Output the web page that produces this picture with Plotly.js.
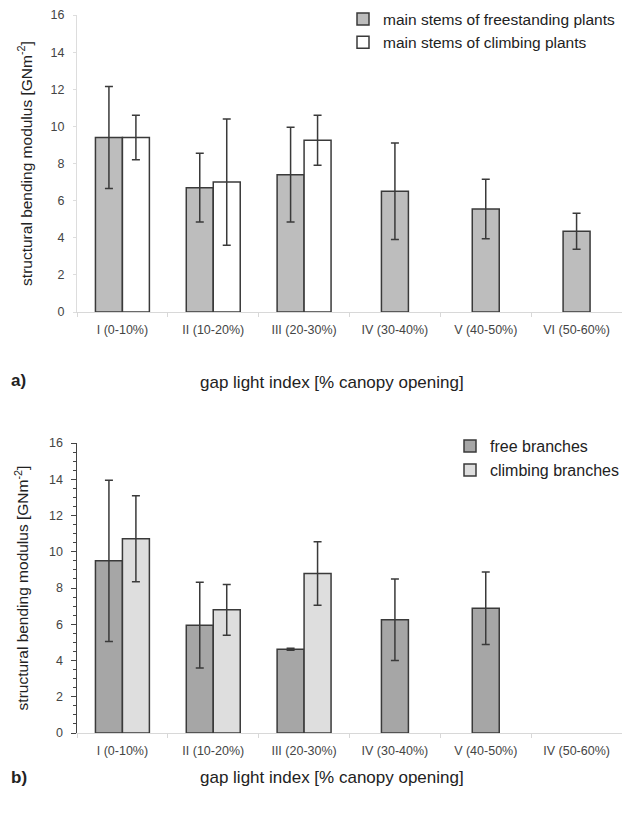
<!DOCTYPE html>
<html>
<head>
<meta charset="utf-8">
<script src="https://cdn.plot.ly/plotly-3.0.1.min.js"></script>
<style>html,body{margin:0;padding:0;background:#fff}#chart{width:622px;height:816px}</style>
</head>
<body>
<div id="chart"></div>
<script>
// ---- data (panel a) ----
const catsA = ["I (0-10%)", "II (10-20%)", "III (20-30%)", "IV (30-40%)", "V (40-50%)", "VI (50-60%)"];
const freestanding = [9.4, 6.7, 7.4, 6.5, 5.55, 4.35];
const freestandingErr = [2.75, 1.85, 2.55, 2.6, 1.6, 0.97];
const climbing = [9.4, 7.0, 9.25, null, null, null];
const climbingErr = [1.2, 3.4, 1.35, null, null, null];
// ---- data (panel b) ----
const catsB = ["I (0-10%)", "II (10-20%)", "III (20-30%)", "IV (30-40%)", "V (40-50%)", "IV (50-60%)"];
const freeBranches = [9.5, 5.95, 4.62, 6.25, 6.88, null];
const freeBranchesErr = [4.45, 2.37, 0.05, 2.25, 2.0, null];
const climbingBranches = [10.72, 6.8, 8.8, null, null, null];
const climbingBranchesErr = [2.37, 1.4, 1.75, null, null, null];
const xTitle = 'gap light index [% canopy opening]';
const yTitle = 'structural bending modulus [GNm<sup>-2</sup>]';

const W = 0.297;
function offsets(a, b, first) {
  return a.map((v, i) => {
    const both = a[i] != null && b[i] != null;
    if (both) return first ? -W : 0;
    return -W / 2;
  });
}

const barLine = {color: '#3a3a3a', width: 1.5};
const errStyle = (arr) => ({type: 'data', array: arr, symmetric: true, visible: true, color: '#3a3a3a', thickness: 1.5, width: 4});

const traces = [
  {type: 'bar', name: 'main stems of freestanding plants', x: catsA, y: freestanding,
   offset: offsets(freestanding, climbing, true), width: W,
   marker: {color: '#bdbdbd', line: barLine}, error_y: errStyle(freestandingErr),
   xaxis: 'x', yaxis: 'y', legend: 'legend'},
  {type: 'bar', name: 'main stems of climbing plants', x: catsA, y: climbing,
   offset: offsets(climbing, freestanding, false), width: W,
   marker: {color: '#ffffff', line: barLine}, error_y: errStyle(climbingErr),
   xaxis: 'x', yaxis: 'y', legend: 'legend'},
  {type: 'bar', name: 'free branches', x: catsB, y: freeBranches,
   offset: offsets(freeBranches, climbingBranches, true), width: W,
   marker: {color: '#a6a6a6', line: barLine}, error_y: errStyle(freeBranchesErr),
   xaxis: 'x2', yaxis: 'y2', legend: 'legend2'},
  {type: 'bar', name: 'climbing branches', x: catsB, y: climbingBranches,
   offset: offsets(climbingBranches, freeBranches, false), width: W,
   marker: {color: '#dedede', line: barLine}, error_y: errStyle(climbingBranchesErr),
   xaxis: 'x2', yaxis: 'y2', legend: 'legend2'}
];

const fontFam = 'Liberation Sans, Arial, sans-serif';
const tickFont = {family: fontFam, size: 12.5, color: '#444'};
const yTitleFont = {family: fontFam, size: 15.5, color: '#222'};
const xTitleFont = {family: fontFam, size: 17, color: '#222'};

const L = 77, PW = 622 - 77;          // plot-area left and width in px
const px = (v) => (v - L) / PW;        // px -> paper x

const xCommon = {
  type: 'category', range: [-0.5, 5.5], showline: true, linecolor: '#d8d8d8', linewidth: 1,
  ticks: 'outside', tickson: 'boundaries', ticklen: 4, tickcolor: '#d8d8d8', ticklabelstandoff: 6,
  tickfont: tickFont, showgrid: false, zeroline: false, fixedrange: true
};

const layout = {
  width: 622, height: 816,
  margin: {l: L, r: 0, t: 0, b: 0, autoexpand: false},
  paper_bgcolor: '#ffffff', plot_bgcolor: '#ffffff',
  showlegend: true, barmode: 'group',
  font: {family: fontFam},
  xaxis: Object.assign({}, xCommon, {domain: [0, 1], anchor: 'y', categoryarray: catsA, categoryorder: 'array'}),
  xaxis2: Object.assign({}, xCommon, {domain: [0, 1], anchor: 'y2', categoryarray: catsB, categoryorder: 'array'}),
  yaxis: {
    domain: [1 - 312 / 816, 1 - 15 / 816], range: [0, 16], dtick: 2, anchor: 'x',
    showline: true, linecolor: '#dddddd', linewidth: 1, ticks: 'outside', ticklen: 3, tickcolor: '#dddddd',
    ticklabelstandoff: 6,
    showgrid: false, zeroline: false, tickfont: tickFont,
    title: {text: yTitle, font: yTitleFont, standoff: 14}
  },
  yaxis2: {
    domain: [1 - 733 / 816, 1 - 443 / 816], range: [0, 16], dtick: 2, anchor: 'x2',
    showline: true, linecolor: '#444444', linewidth: 1.5, ticks: 'outside', ticklen: 5, tickcolor: '#444444',
    minor: {dtick: 0.5, ticks: 'outside', ticklen: 3, tickcolor: '#444444'},
    ticklabelstandoff: 5,
    showgrid: false, zeroline: false, tickfont: tickFont,
    title: {text: yTitle, font: yTitleFont, standoff: 16}
  },
  legend: {x: px(343), y: 0.997, xanchor: 'left', yanchor: 'top', bgcolor: 'rgba(0,0,0,0)',
           font: {family: fontFam, size: 15.5, color: '#222'}, tracegroupgap: 0, itemclick: false},
  legend2: {x: px(450), y: 0.474, xanchor: 'left', yanchor: 'top', bgcolor: 'rgba(0,0,0,0)',
           font: {family: fontFam, size: 16, color: '#222'}, tracegroupgap: 0, itemclick: false},
  annotations: [
    {text: xTitle, xref: 'paper', yref: 'paper', x: px(332), y: 1 - 382 / 816, xanchor: 'center', yanchor: 'middle',
     showarrow: false, font: xTitleFont},
    {text: xTitle, xref: 'paper', yref: 'paper', x: px(332), y: 1 - 777 / 816, xanchor: 'center', yanchor: 'middle',
     showarrow: false, font: xTitleFont},
    {text: '<b>a)</b>', xref: 'paper', yref: 'paper', x: px(9), y: 1 - 380 / 816, xanchor: 'left', yanchor: 'middle',
     showarrow: false, font: {family: fontFam, size: 17, color: '#222'}},
    {text: '<b>b)</b>', xref: 'paper', yref: 'paper', x: px(9), y: 1 - 777 / 816, xanchor: 'left', yanchor: 'middle',
     showarrow: false, font: {family: fontFam, size: 17, color: '#222'}}
  ]
};

Plotly.newPlot('chart', traces, layout, {displayModeBar: false, staticPlot: true});
</script>
</body>
</html>
